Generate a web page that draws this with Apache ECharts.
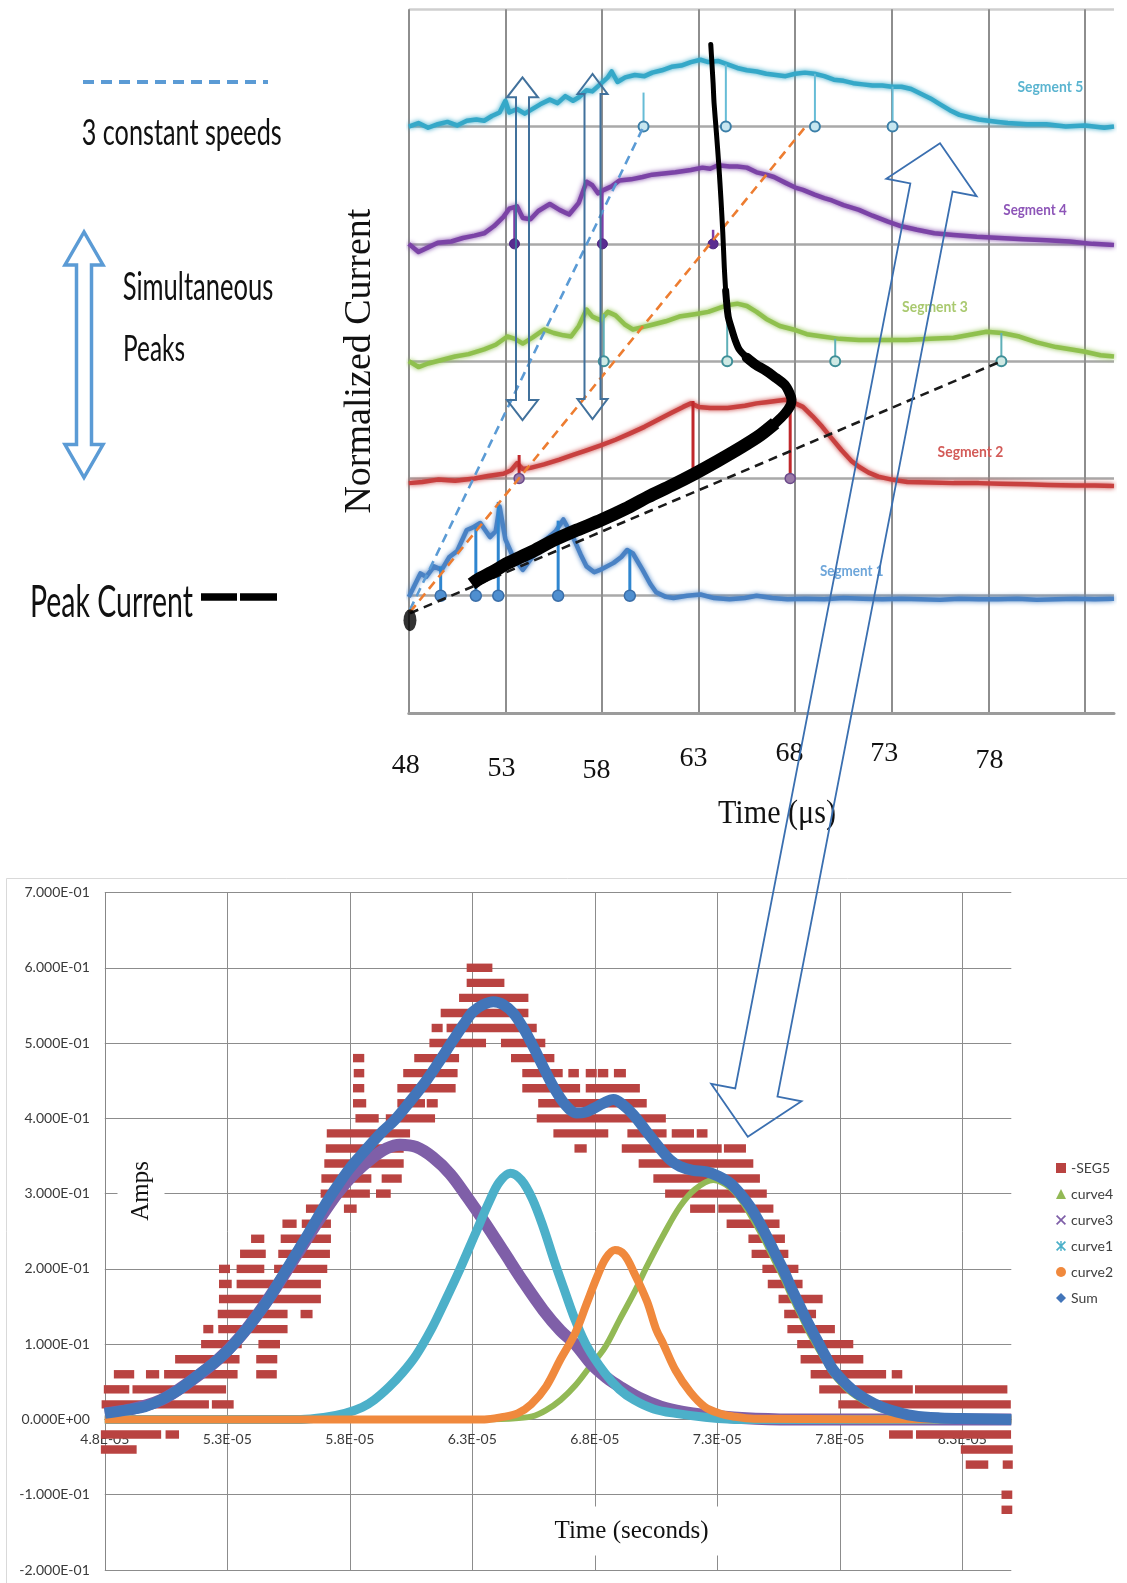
<!DOCTYPE html>
<html>
<head>
<meta charset="utf-8">
<script src="https://cdn.jsdelivr.net/npm/echarts@6/dist/echarts.min.js"></script>
<style>
html,body{margin:0;padding:0;background:#ffffff;}
#chart{width:1127px;height:1583px;}
</style>
</head>
<body>
<div id="chart"></div>
<script>
// ================= DATA : top panel (time in µs, normalized current; segment k rests on baseline k) =================
const topTicks = [48, 53, 58, 63, 68, 73, 78];

const segment5 = [[48.0,5.00],[48.5,5.03],[49.0,4.99],[49.5,5.02],[50.0,5.04],[50.5,5.01],[51.0,5.05],[51.5,5.06],[51.9,5.05],[52.3,5.09],[52.7,5.12],[53.0,5.22],[53.2,5.12],[53.6,5.15],[54.0,5.11],[54.3,5.14],[54.8,5.19],[55.3,5.23],[55.7,5.20],[56.1,5.26],[56.5,5.22],[56.8,5.25],[57.2,5.31],[57.5,5.30],[57.9,5.36],[58.3,5.42],[58.5,5.47],[58.8,5.38],[59.2,5.42],[59.7,5.44],[60.2,5.43],[60.6,5.46],[61.1,5.48],[61.6,5.51],[62.1,5.52],[62.6,5.55],[63.1,5.57],[63.5,5.55],[64.0,5.56],[64.5,5.53],[65.0,5.50],[65.5,5.48],[66.0,5.47],[66.5,5.45],[67.0,5.44],[67.5,5.43],[68.0,5.45],[68.5,5.46],[69.0,5.45],[69.5,5.43],[70.0,5.40],[70.5,5.39],[71.0,5.37],[71.5,5.36],[72.0,5.35],[72.5,5.35],[73.0,5.34],[73.5,5.34],[74.0,5.32],[74.5,5.28],[75.0,5.24],[75.5,5.19],[76.0,5.14],[76.5,5.10],[77.0,5.08],[77.5,5.06],[78.0,5.05],[78.5,5.04],[79.0,5.03],[80.0,5.02],[81.0,5.02],[82.0,5.00],[83.0,5.01],[84.0,4.99],[84.5,5.00]];
const segment4 = [[48.0,4.00],[48.5,3.93],[49.0,3.97],[49.5,4.01],[50.2,4.02],[50.8,4.05],[51.4,4.07],[51.9,4.09],[52.4,4.15],[52.9,4.23],[53.2,4.30],[53.6,4.32],[53.9,4.22],[54.3,4.21],[54.7,4.28],[55.3,4.34],[55.8,4.29],[56.3,4.25],[56.8,4.35],[57.2,4.53],[57.5,4.50],[57.8,4.43],[58.1,4.46],[58.5,4.49],[58.9,4.54],[59.5,4.55],[60.1,4.57],[60.6,4.59],[61.2,4.60],[61.8,4.61],[62.6,4.63],[63.2,4.65],[63.6,4.64],[64.0,4.67],[64.6,4.66],[65.0,4.66],[65.5,4.65],[66.0,4.61],[66.5,4.59],[66.9,4.57],[67.5,4.52],[68.0,4.48],[68.4,4.46],[69.0,4.42],[69.5,4.39],[69.9,4.37],[70.5,4.33],[71.3,4.29],[72.0,4.24],[72.8,4.19],[73.5,4.15],[74.3,4.12],[75.2,4.09],[76.2,4.075],[77.4,4.06],[78.6,4.05],[79.8,4.04],[81.0,4.03],[82.2,4.02],[83.4,4.00],[84.5,3.99]];
const segment3 = [[48.0,3.00],[48.5,2.95],[49.0,2.98],[49.7,3.01],[50.4,3.04],[51.1,3.06],[51.9,3.10],[52.5,3.14],[53.1,3.21],[53.5,3.19],[53.9,3.15],[54.4,3.20],[55.0,3.27],[55.5,3.24],[56.0,3.22],[56.4,3.21],[56.8,3.30],[57.2,3.44],[57.5,3.38],[57.9,3.35],[58.3,3.42],[58.7,3.39],[59.2,3.31],[59.6,3.27],[60.1,3.29],[60.6,3.31],[61.3,3.34],[62.0,3.38],[62.8,3.40],[63.5,3.42],[64.2,3.46],[64.6,3.48],[65.0,3.49],[65.5,3.47],[66.0,3.42],[66.5,3.36],[67.2,3.30],[67.9,3.27],[68.6,3.23],[69.4,3.21],[70.3,3.19],[71.3,3.18],[72.5,3.18],[73.8,3.18],[75.0,3.19],[76.2,3.20],[77.2,3.23],[77.9,3.25],[78.7,3.24],[79.6,3.21],[80.5,3.16],[81.5,3.12],[82.3,3.10],[83.0,3.08],[83.8,3.05],[84.5,3.04]];
const segment2 = [[48.0,1.96],[48.7,1.97],[49.5,1.99],[50.4,1.98],[51.4,2.00],[52.1,2.02],[52.9,2.04],[53.3,2.07],[53.6,2.13],[53.9,2.08],[54.3,2.09],[55.0,2.12],[55.8,2.16],[56.5,2.20],[57.2,2.24],[57.9,2.28],[58.7,2.33],[59.4,2.38],[60.2,2.44],[60.9,2.50],[61.6,2.56],[62.2,2.61],[62.6,2.64],[63.0,2.61],[63.6,2.60],[64.5,2.60],[65.4,2.62],[66.0,2.64],[66.5,2.65],[67.0,2.66],[67.5,2.67],[68.0,2.64],[68.4,2.61],[68.9,2.53],[69.4,2.44],[69.9,2.34],[70.4,2.24],[70.9,2.15],[71.3,2.10],[71.8,2.05],[72.3,2.015],[73.0,1.99],[73.8,1.97],[75.0,1.965],[76.2,1.96],[77.5,1.96],[78.6,1.955],[80.0,1.95],[81.1,1.945],[82.5,1.94],[83.5,1.94],[84.5,1.935]];
const segment1 = [[48.0,0.99],[48.3,1.09],[48.6,1.19],[48.9,1.16],[49.3,1.25],[49.7,1.22],[50.1,1.33],[50.5,1.38],[51.0,1.56],[51.3,1.58],[51.7,1.62],[52.2,1.50],[52.5,1.55],[52.7,1.76],[53.0,1.48],[53.4,1.33],[53.9,1.22],[54.4,1.33],[54.8,1.40],[55.1,1.48],[55.6,1.55],[56.0,1.65],[56.5,1.50],[56.9,1.35],[57.2,1.25],[57.6,1.20],[57.9,1.22],[58.6,1.28],[59.0,1.33],[59.3,1.39],[59.6,1.36],[60.1,1.22],[60.5,1.10],[60.8,1.03],[61.3,0.99],[61.7,0.98],[62.4,1.00],[63.1,1.01],[63.8,0.98],[64.6,0.97],[65.4,0.98],[66.0,1.00],[66.8,0.98],[67.6,0.97],[68.5,0.975],[69.5,0.97],[70.5,0.98],[71.5,0.975],[72.5,0.97],[73.5,0.975],[74.5,0.97],[75.5,0.965],[76.5,0.975],[77.5,0.97],[78.5,0.97],[79.5,0.975],[80.5,0.965],[81.5,0.97],[82.5,0.975],[83.5,0.97],[84.5,0.975]];

// peak markers: [time, trace value, has marker]
const peaks5 = [[60.15,5.29,1],[64.41,5.53,1],[69.02,5.45,1],[73.04,5.34,1]];
const peaks4 = [[53.47,4.30,1],[58.02,4.45,1],[63.75,4.12,1]];
const peaks3 = [[58.09,3.40,1],[64.48,3.46,1],[70.07,3.19,1],[78.67,3.24,1]];
const peaks2 = [[53.71,2.20,1],[62.71,2.66,0],[67.74,2.69,1]];
const peaks1 = [[49.65,1.25,1],[51.47,1.59,1],[52.63,1.80,1],[55.73,1.64,1],[59.44,1.39,1]];

// three constant speeds (dashed)
const speedBlue   = [[48.06,0.88],[60.15,5.00]];
const speedOrange = [[48.06,0.86],[68.54,5.00]];
const speedBlack  = [[48.06,0.85],[78.67,3.00]];

// peak current path
const peakStart = [[48.06,0.79]];
const peakCurrentA = [[51.25,1.10],[51.6,1.14],[52.3,1.20],[53.1,1.276],[54.3,1.37],[55.53,1.475],[56.7,1.56],[57.96,1.645],[59.2,1.74],[60.39,1.844],[61.6,1.94],[62.82,2.043],[64.0,2.15],[65.25,2.27],[66.2,2.37],[66.96,2.47]];
const peakCurrentB = [[66.96,2.47],[67.45,2.55],[67.75,2.62],[67.81,2.67],[67.7,2.73],[67.45,2.80],[66.9,2.87],[66.47,2.92],[65.95,2.97],[65.49,3.03]];
const peakCurrentC = [[65.49,3.03],[65.1,3.10],[64.89,3.18],[64.7,3.28],[64.53,3.38],[64.4,3.6]];
const peakCurrentD = [[64.4,3.6],[64.33,3.8],[64.25,4.1],[64.16,4.37],[64.05,4.66],[63.92,4.95],[63.8,5.2],[63.75,5.37],[63.63,5.70]];

// ================= DATA : bottom panel (time in µs, Amps) =================
// -SEG5 measured samples, grouped into runs of consecutive samples at one level: [tStart, tEnd, amps]
const seg5Runs = [
[84.6,85.04,-0.12],
[84.6,85.04,-0.10],
[83.14,84.06,-0.06],[84.65,85.06,-0.06],
[47.84,49.3,-0.04],[82.94,85.06,-0.04],
[47.84,50.3,-0.02],[50.48,51.03,-0.02],[80.01,80.98,-0.02],[81.11,84.99,-0.02],
[47.87,52.25,0.02],[52.37,53.26,0.02],[77.94,84.98,0.02],
[47.96,49.0,0.04],[49.13,52.95,0.04],[77.16,80.98,0.04],[81.07,84.84,0.04],
[48.37,49.2,0.06],[49.68,50.22,0.06],[50.42,53.42,0.06],[54.18,55.02,0.06],[76.81,79.89,0.06],[80.12,80.55,0.06],
[50.87,53.5,0.08],[54.18,55.04,0.08],[76.4,78.96,0.08],
[51.93,53.59,0.10],[54.27,55.15,0.10],[76.26,78.55,0.10],
[52.02,52.43,0.12],[52.63,55.46,0.12],[75.86,77.8,0.12],
[52.61,55.46,0.14],[55.99,56.48,0.14],[75.73,77.03,0.14],
[52.66,56.82,0.16],[75.5,77.3,0.16],
[52.66,53.18,0.18],[53.38,56.82,0.18],[75.06,76.48,0.18],
[52.66,53.11,0.20],[53.38,54.51,0.20],[54.91,57.08,0.20],[74.84,76.31,0.20],
[53.52,54.57,0.22],[55.08,57.19,0.22],[74.4,75.9,0.22],
[53.97,54.51,0.24],[55.18,57.23,0.24],[74.27,75.76,0.24],
[55.25,55.83,0.26],[56.04,57.23,0.26],[73.38,75.54,0.26],
[56.21,57.12,0.28],[57.76,58.28,0.28],[71.89,72.91,0.28],[73.04,75.29,0.28],
[56.81,58.82,0.30],[59.07,59.67,0.30],[70.87,75.02,0.30],
[56.84,58.88,0.32],[59.3,60.12,0.32],[70.39,74.74,0.32],
[56.96,60.2,0.34],[69.79,74.47,0.34],
[57.02,60.2,0.36],[67.17,67.67,0.36],[69.1,73.18,0.36],[73.27,74.17,0.36],
[57.06,60.46,0.38],[66.31,68.55,0.38],[69.33,70.93,0.38],[71.14,72.05,0.38],[72.16,72.6,0.38],
[58.23,59.18,0.40],[59.47,61.48,0.40],[65.63,70.9,0.40],
[58.13,58.67,0.42],[59.94,61.07,0.42],[61.14,61.59,0.42],[65.69,70.12,0.42],
[58.13,58.59,0.44],[59.94,62.32,0.44],[65.04,67.4,0.44],[67.63,69.84,0.44],
[58.16,58.59,0.46],[60.18,62.4,0.46],[65.04,66.69,0.46],[66.92,67.35,0.46],[67.63,68.08,0.46],[68.12,68.55,0.46],[68.78,69.27,0.46],
[58.13,58.59,0.48],[60.63,62.46,0.48],[64.58,66.35,0.48],
[61.25,63.56,0.50],[64.17,65.98,0.50],
[61.34,61.79,0.52],[61.95,65.63,0.52],
[61.71,65.29,0.54],
[62.46,65.29,0.56],
[62.77,64.31,0.58],
[62.77,63.82,0.60]
];

const curve4 = [[48,0],[63.0,0.0],[64.5,0.001],[65.44,0.004],[66.0,0.012],[66.61,0.026],[67.2,0.045],[67.8,0.07],[68.4,0.095],[69.02,0.133],[69.6,0.168],[70.12,0.203],[70.8,0.245],[71.48,0.283],[72.1,0.306],[72.84,0.318],[73.52,0.308],[74.0,0.29],[74.33,0.273],[74.7,0.252],[75.02,0.232],[75.35,0.21],[75.69,0.188],[76.03,0.163],[76.38,0.14],[76.72,0.117],[77.06,0.097],[77.4,0.078],[77.73,0.06],[78.2,0.043],[78.69,0.03],[79.4,0.017],[80.05,0.01],[81.0,0.004],[82.09,0.001],[83.5,0.0],[85,0.0]];
const curve3 = [[48.0,0.008],[49.0,0.013],[50.3,0.026],[51.5,0.051],[52.6,0.079],[53.45,0.107],[54.27,0.141],[55.08,0.18],[55.9,0.222],[56.72,0.264],[57.53,0.302],[58.2,0.327],[58.9,0.347],[59.5,0.36],[60.05,0.365],[60.7,0.362],[61.4,0.348],[62.1,0.326],[62.8,0.295],[63.5,0.262],[64.3,0.222],[65.1,0.182],[65.9,0.145],[66.6,0.118],[67.2,0.1],[67.9,0.072],[68.5,0.055],[69.0,0.044],[69.8,0.029],[70.7,0.017],[71.6,0.01],[72.5,0.006],[74.0,0.002],[76.0,0.0],[85.0,0.0]];
const curve1 = [[48,0],[56.0,0.0],[57.0,0.003],[57.8,0.008],[58.5,0.016],[59.0,0.026],[59.6,0.043],[60.15,0.062],[60.7,0.085],[61.33,0.12],[61.9,0.158],[62.5,0.2],[63.1,0.245],[63.7,0.29],[64.1,0.315],[64.55,0.327],[65.0,0.318],[65.45,0.293],[65.9,0.255],[66.35,0.21],[66.8,0.168],[67.2,0.132],[67.7,0.096],[68.4,0.062],[69.0,0.04],[69.6,0.026],[70.4,0.014],[71.3,0.008],[72.5,0.003],[74,0.0],[85,0.0]];
const curve2 = [[48,0.0],[63.5,0.0],[64.2,0.003],[64.85,0.008],[65.4,0.02],[66.02,0.044],[66.6,0.08],[67.19,0.114],[67.67,0.154],[68.1,0.19],[68.45,0.214],[68.82,0.225],[69.2,0.219],[69.6,0.195],[70.13,0.157],[70.5,0.12],[70.8,0.1],[71.3,0.065],[71.9,0.036],[72.48,0.017],[73.1,0.008],[73.65,0.004],[74.5,0.001],[85,0.0]];
const sumCurve = [[48.0,0.008],[49.0,0.013],[49.64,0.017],[50.3,0.026],[51.0,0.039],[51.5,0.051],[52.09,0.066],[52.6,0.079],[53.04,0.092],[53.45,0.107],[53.86,0.123],[54.27,0.141],[54.67,0.159],[55.08,0.181],[55.49,0.203],[55.9,0.225],[56.31,0.247],[56.72,0.27],[57.12,0.292],[57.53,0.312],[57.94,0.331],[58.4,0.349],[58.89,0.367],[59.35,0.383],[59.84,0.398],[60.5,0.424],[61.14,0.451],[61.7,0.478],[62.22,0.504],[62.65,0.525],[63.04,0.542],[63.45,0.551],[63.86,0.555],[64.27,0.551],[64.67,0.54],[65.08,0.52],[65.49,0.495],[65.9,0.468],[66.31,0.442],[66.8,0.418],[67.26,0.407],[67.6,0.408],[67.94,0.413],[68.35,0.42],[68.76,0.425],[69.15,0.418],[69.57,0.405],[70.1,0.383],[70.66,0.36],[71.07,0.345],[71.48,0.336],[72.0,0.331],[72.57,0.329],[73.05,0.323],[73.52,0.314],[73.93,0.3],[74.33,0.283],[74.68,0.264],[75.02,0.243],[75.35,0.221],[75.69,0.199],[76.03,0.174],[76.38,0.15],[76.72,0.127],[77.06,0.106],[77.4,0.085],[77.73,0.066],[78.2,0.049],[78.69,0.035],[79.4,0.021],[80.05,0.0126],[81.0,0.005],[82.09,0.002],[83.5,0.001],[85.0,0.0]];

// ================= STYLE / LAYOUT =================
const SERIF = "'Liberation Serif', 'Times New Roman', serif";
const SANS = "Lato, 'Open Sans', sans-serif";
const C = {
  s5:'#35a8c8', s4:'#7b43a6', s3:'#8fc04e', s2:'#c8403f', s1:'#4a82c4',
  seg5:'#b94341', c4:'#92b955', c3:'#7f5fa8', c1:'#4cb0c9', c2:'#f0893d', sum:'#4275b9',
  arrow:'#41719c', bigArrow:'#3a6fb0', lightArrow:'#5b9bd5'
};
// bottom grid geometry (pixels) and derived offset that puts the time axis on the zero line
const BOT = { left:104.8, top:892.5, width:906.5, height:677.5, yMin:-0.2, yMax:0.7 };
const BOT_ZERO_OFFSET = -BOT.height * (0 - BOT.yMin) / (BOT.yMax - BOT.yMin);
// per-label nudges for top tick labels: [padTop, dx]
const topLabelNudge = {48:[24,-3],53:[29,-4],58:[34,-5.5],63:[9,-5],68:[0,-5.6],73:[0,-7.5],78:[14,1]};

function sciFmt(v, digits) {
  if (Math.abs(v) < 1e-12) return (0).toFixed(digits) + 'E+00';
  let e = Math.floor(Math.log10(Math.abs(v)) + 1e-9);
  let m = v / Math.pow(10, e);
  return m.toFixed(digits) + 'E' + (e < 0 ? '-' : '+') + String(Math.abs(e)).padStart(2, '0');
}

const mctx = document.createElement('canvas').getContext('2d');
function fitText(str, x, y, w, size, family, color, opts) {
  opts = opts || {};
  const weight = opts.weight || 'normal';
  mctx.font = weight + ' ' + size + 'px ' + family;
  const mw = mctx.measureText(str).width || w;
  const align = opts.align || 'left';
  return {
    type: 'text', x: x, y: y, scaleX: w / mw, z: 50,
    style: { text: str, fill: color, fontSize: size, fontFamily: family, fontWeight: weight,
      align: align, textAlign: align, verticalAlign: 'middle', textVerticalAlign: 'middle' }
  };
}
function dblArrow(p1, p2, shaftHalf, headHalf, headLen) {
  const dx = p2[0]-p1[0], dy = p2[1]-p1[1], L = Math.hypot(dx, dy);
  const ux = dx/L, uy = dy/L, nx = -uy, ny = ux;
  const b1 = [p1[0]+ux*headLen, p1[1]+uy*headLen], b2 = [p2[0]-ux*headLen, p2[1]-uy*headLen];
  const P = (b, s) => [b[0]+nx*s, b[1]+ny*s];
  return [p1, P(b1, headHalf), P(b1, shaftHalf), P(b2, shaftHalf), P(b2, headHalf), p2,
          P(b2, -headHalf), P(b2, -shaftHalf), P(b1, -shaftHalf), P(b1, -headHalf)];
}
function arrowEl(points, stroke, width, z) {
  return { type:'polygon', z: z, shape:{ points: points }, style:{ fill:'rgba(0,0,0,0)', stroke: stroke, lineWidth: width, lineJoin:'miter' } };
}

// ---- top panel series helpers ----
function trace(name, data, color) {
  return { type:'line', name: name, xAxisIndex:0, yAxisIndex:0, data: data, symbol:'none', silent:true, z:2,
    lineStyle:{ color: color, width: 4.5, shadowColor: color, shadowBlur: 5, join:'round' } };
}
function peakMarks(name, data, base, stroke, sw, dot) {
  return { type:'custom', name: name, xAxisIndex:0, yAxisIndex:0, data: data, z:4, silent:true, clip:false,
    encode:{ x:0, y:1 },
    renderItem: function (p, api) {
      const t = api.value(0), top = api.value(1), has = api.value(2);
      const a = api.coord([t, top]), b = api.coord([t, base]);
      const ch = [{ type:'line', shape:{ x1:a[0], y1:a[1], x2:b[0], y2:b[1] }, style:{ stroke: stroke, lineWidth: sw } }];
      if (has) ch.push({ type:'circle', shape:{ cx:b[0], cy:b[1], r: dot.r }, style:{ fill: dot.fill, stroke: dot.stroke, lineWidth: dot.lw } });
      return { type:'group', children: ch };
    } };
}
function dashed(name, data, color) {
  return { type:'line', name: name, xAxisIndex:0, yAxisIndex:0, data: data, symbol:'none', silent:true, z:5,
    lineStyle:{ color: color, width: 2.6, type:[9,6] } };
}
function blackPath(name, data, w, cap) {
  return { type:'line', name: name, xAxisIndex:0, yAxisIndex:0, data: data, symbol:'none', silent:true, z:6, smooth:0.25,
    lineStyle:{ color:'#000', width: w, cap: cap, join:'round' } };
}
function curve(name, data, color, w, z) {
  return { type:'line', name: name, xAxisIndex:1, yAxisIndex:1, data: data, symbol:'none', silent:true, smooth:0.35,
    color: color, z: z, lineStyle:{ color: color, width: w, join:'round' } };
}

const xIcon = 'path://M0,1.2L1.2,0L5,3.8L8.8,0L10,1.2L6.2,5L10,8.8L8.8,10L5,6.2L1.2,10L0,8.8L3.8,5Z';
const starIcon = 'path://M0,1.2L1.2,0L5,3.8L8.8,0L10,1.2L6.2,5L10,8.8L8.8,10L5,6.2L1.2,10L0,8.8L3.8,5Z M4.3,0L5.7,0L5.7,10L4.3,10Z';

const option = {
  animation: false,
  backgroundColor: '#ffffff',
  textStyle: { fontFamily: SANS },
  grid: [
    { left: 408.8, top: 9.3, width: 705.2, height: 703.7, containLabel: false, outerBoundsMode: 'none' },
    { left: BOT.left, top: BOT.top, width: BOT.width, height: BOT.height, containLabel: false, outerBoundsMode: 'none' }
  ],
  xAxis: [
    { type:'value', gridIndex:0, min:48, max:84.5, interval:5,
      axisLine:{ show:true, onZero:false, lineStyle:{ color:'#9b9b9b', width:3 } },
      axisTick:{ show:false },
      splitLine:{ show:true, showMaxLine:false, lineStyle:{ color:'#8e8e8e', width:2 } },
      axisLabel:{ show:true, margin:27, color:'#111',
        formatter: function (v) { const k = Math.round(v); return topTicks.indexOf(k) >= 0 ? '{t' + k + '|' + k + '}' : ''; },
        rich: (function () { const r = {}; topTicks.forEach(function (k) { const n = topLabelNudge[k];
          const dx = n[1]; r['t' + k] = { fontFamily: SERIF, fontSize: 28, lineHeight: 28, color:'#111',
            padding:[n[0], dx < 0 ? -2*dx : 0, 0, dx > 0 ? 2*dx : 0] }; }); return r; })() } },
    { type:'value', gridIndex:1, min:48, max:85, interval:5, offset: BOT_ZERO_OFFSET,
      axisLine:{ show:true, onZero:false, lineStyle:{ color:'#878787', width:1 } },
      axisTick:{ show:false },
      splitLine:{ show:true, showMaxLine:false, lineStyle:{ color:'#8c8c8c', width:1 } },
      axisLabel:{ margin:13, fontSize:14, color:'#3a3a3a', fontFamily: SANS,
        formatter: function (v) { return v > 84 ? '' : sciFmt(v * 1e-6, 1); } } }
  ],
  yAxis: [
    { type:'value', gridIndex:0, min:0, max:6, interval:1,
      name:'Normalized Current', nameLocation:'middle', nameGap:30, nameRotate:90,
      nameTextStyle:{ fontFamily: SERIF, fontSize:38, color:'#111' },
      axisLine:{ show:false }, axisTick:{ show:false }, axisLabel:{ show:false },
      splitLine:{ show:true, lineStyle:{ color:['#9b9b9b','#a9a9a9','#a9a9a9','#a9a9a9','#a9a9a9','#a9a9a9','#cfcfcf'], width:2.5 } } },
    { type:'value', gridIndex:1, min:BOT.yMin, max:BOT.yMax, interval:0.1,
      axisLine:{ show:true, onZero:false, lineStyle:{ color:'#878787', width:1 } },
      axisTick:{ show:false },
      splitLine:{ show:true, lineStyle:{ color:'#8c8c8c', width:1 } },
      axisLabel:{ margin:15, fontSize:14, color:'#3a3a3a', fontFamily: SANS,
        formatter: function (v) { return sciFmt(v, 3); } } }
  ],
  legend: {
    orient:'vertical', left:1051, top:1156, itemWidth:10, itemHeight:10, itemGap:12, selectedMode:false,
    textStyle:{ fontFamily: SANS, fontSize:14, color:'#404040', lineHeight:14 },
    data:[ { name:'-SEG5', icon:'rect' }, { name:'curve4', icon:'triangle' }, { name:'curve3', icon: xIcon },
           { name:'curve1', icon: starIcon }, { name:'curve2', icon:'circle' }, { name:'Sum', icon:'diamond' } ]
  },
  series: [
    trace('Segment 5 trace', segment5, C.s5),
    trace('Segment 4 trace', segment4, C.s4),
    trace('Segment 3 trace', segment3, C.s3),
    trace('Segment 2 trace', segment2, C.s2),
    trace('Segment 1 trace', segment1, C.s1),
    peakMarks('peaks5', peaks5, 5, '#66bcd6', 2, { r:5, fill:'#c6e6f0', stroke:'#3b7fa8', lw:2 }),
    peakMarks('peaks4', peaks4, 4, '#7d3fa6', 2.5, { r:5, fill:'#5a2d91', stroke:'#4a2380', lw:1 }),
    peakMarks('peaks3', peaks3, 3, '#5fb0b8', 2, { r:5, fill:'#cfe9e4', stroke:'#3f8f98', lw:2 }),
    peakMarks('peaks2', peaks2, 2, '#c0282c', 3, { r:5, fill:'#9a7aa8', stroke:'#6b4a8a', lw:1.5 }),
    peakMarks('peaks1', peaks1, 1, '#2f86d0', 3, { r:5.5, fill:'#4f8fd0', stroke:'#3a6ea8', lw:1.5 }),
    dashed('speed blue', speedBlue, '#5b9bd5'),
    dashed('speed orange', speedOrange, '#ed7d31'),
    dashed('speed black', speedBlack, '#1a1a1a'),
    blackPath('Peak current A', peakCurrentA, 13, 'butt'),
    blackPath('Peak current B', peakCurrentB, 10, 'round'),
    blackPath('Peak current C', peakCurrentC, 7, 'round'),
    blackPath('Peak current D', peakCurrentD, 5, 'round'),
    { type:'scatter', name:'Peak start', xAxisIndex:0, yAxisIndex:0, data: peakStart, symbol:'circle', symbolSize:[13,22],
      itemStyle:{ color:'#000' }, z:7, silent:true },
    // ---- bottom panel ----
    { type:'custom', name:'-SEG5', xAxisIndex:1, yAxisIndex:1, data: seg5Runs, clip:false, z:2, silent:true,
      encode:{ x:[0,1], y:2 }, itemStyle:{ color: C.seg5 },
      renderItem: function (p, api) {
        const a = api.coord([api.value(0), api.value(2)]);
        const b = api.coord([api.value(1), api.value(2)]);
        return { type:'rect', shape:{ x:a[0], y:a[1]-4.2, width:Math.max(b[0]-a[0], 3), height:8.4 }, style:{ fill: C.seg5 } };
      } },
    curve('curve4', curve4, C.c4, 6, 3),
    curve('curve3', curve3, C.c3, 12, 3),
    curve('curve1', curve1, C.c1, 9, 3),
    curve('curve2', curve2, C.c2, 8, 3),
    curve('Sum', sumCurve, C.sum, 11, 3)
  ],
  graphic: { elements: [] }
};

// ---- annotations (decorations) ----
const G = [];
G.push({ type:'rect', z:0, shape:{ x:6.5, y:878.5, width:1200, height:800 }, style:{ fill:'rgba(0,0,0,0)', stroke:'#d9d9d9', lineWidth:1 } });
G.push({ type:'line', z:20, shape:{ x1:83, y1:82, x2:268, y2:82 }, style:{ stroke:'#5b9bd5', lineWidth:4, lineDash:[11,7] } });
G.push(fitText('3 constant speeds', 81.7, 133, 200, 37, SANS, '#111'));
G.push(arrowEl(dblArrow([84,232],[84,477.5], 7.5, 19, 33), C.lightArrow, 3.5, 20));
G.push(fitText('Simultaneous', 122.7, 288, 150.6, 38, SANS, '#111'));
G.push(fitText('Peaks', 123, 349.5, 62, 37, SANS, '#111'));
G.push(fitText('Peak Current', 30, 602, 163, 45, SANS, '#111'));
G.push({ type:'line', z:20, shape:{ x1:201, y1:597, x2:237, y2:597 }, style:{ stroke:'#000', lineWidth:7.5 } });
G.push({ type:'line', z:20, shape:{ x1:240, y1:597, x2:277, y2:597 }, style:{ stroke:'#000', lineWidth:7.5 } });
G.push(arrowEl(dblArrow([522.5,77.3],[522.5,420], 6.5, 15.5, 20), C.arrow, 2, 30));
G.push(arrowEl(dblArrow([592.5,74],[592.5,419], 8, 15, 20), C.arrow, 2, 30));
G.push(fitText('Segment 5', 1050.4, 87.5, 65.8, 15, SANS, '#5ab4d0', { weight:'bold', align:'center' }));
G.push(fitText('Segment 4', 1035, 210, 63.4, 15, SANS, '#8d55b8', { weight:'bold', align:'center' }));
G.push(fitText('Segment 3', 935, 307.5, 65.8, 15, SANS, '#a9c96f', { weight:'bold', align:'center' }));
G.push(fitText('Segment 2', 970.5, 451.7, 65.8, 15, SANS, '#d35b58', { weight:'bold', align:'center' }));
G.push(fitText('Segment 1', 851.7, 571, 63.5, 15, SANS, '#6ea6da', { weight:'bold', align:'center' }));
G.push(fitText('Time (\u03bcs)', 777, 814, 118, 34, SERIF, '#111', { align:'center' }));
G.push({ type:'text', x:141, y:1191, rotation: Math.PI/2, z:40,
  style:{ text:'Amps', fill:'#111', fontSize:25, fontFamily: SERIF, align:'center', textAlign:'center',
    verticalAlign:'middle', textVerticalAlign:'middle', backgroundColor:'#ffffff', padding:[11,16] } });
G.push({ type:'text', x:631.5, y:1531, z:40,
  style:{ text:'Time (seconds)', fill:'#111', fontSize:25, fontFamily: SERIF, align:'center', textAlign:'center',
    verticalAlign:'middle', textVerticalAlign:'middle', backgroundColor:'#ffffff', padding:[12,16] } });
G.push(arrowEl(dblArrow([940,143.3],[747.8,1136.7], 21.5, 46, 45), C.bigArrow, 1.8, 100));
option.graphic.elements = G;

const chart = echarts.init(document.getElementById('chart'), null, { renderer:'canvas' });
chart.setOption(option);
</script>
</body>
</html>
